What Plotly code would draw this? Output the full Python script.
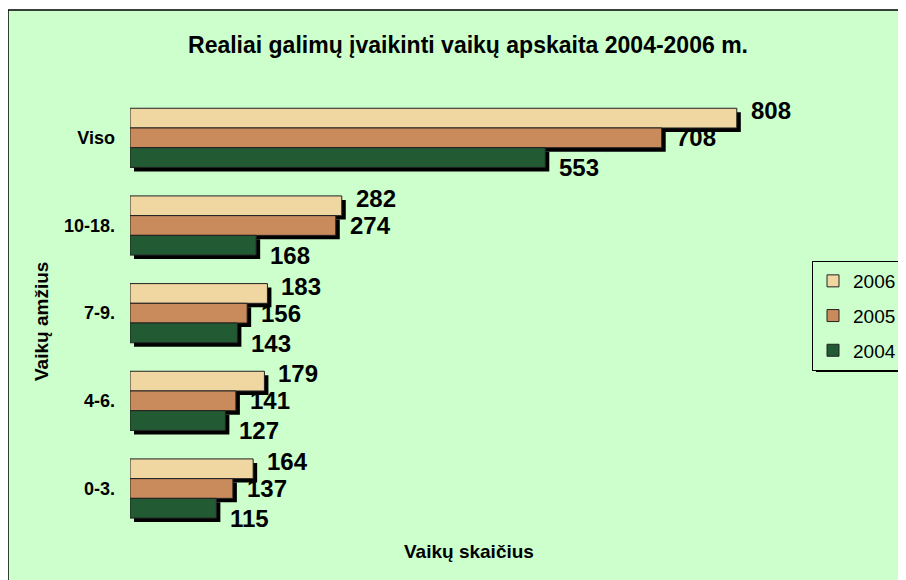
import plotly.graph_objects as go

categories = ["0-3.", "4-6.", "7-9.", "10-18.", "Viso"]
years = ["2006", "2005", "2004"]
values = {
    "2006": [164, 179, 183, 282, 808],
    "2005": [137, 141, 156, 274, 708],
    "2004": [115, 127, 143, 168, 553],
}
colors = {"2006": "#F0D6A0", "2005": "#C98A5C", "2004": "#225A33"}
offsets = {"2006": 0.1125, "2005": -0.1125, "2004": -0.3375}
label_yshift = {"2006": 27, "2005": 0, "2004": -30}
bar_w = 0.225

# page body has an 8px margin; figure coords = screen - 8
OFF = 8
W, H = 906 - OFF, 580 - OFF
L, R, T, B = 122, 25, 86, 46
pw, ph = W - L - R, H - T - B
xmax = 1000
ppu = pw / xmax
sh_px = 4
FONT = "Liberation Sans, Arial"
LEG_X, LEG_Y = 812, 261


def px_x(p):
    return (p - OFF - L) / pw


def px_y(p):
    return (H - B - (p - OFF)) / ph


fig = go.Figure()
# shadows
for yr in years:
    fig.add_trace(go.Bar(
        y=categories, x=values[yr], orientation="h",
        base=sh_px / ppu, offset=offsets[yr] - sh_px / (ph / 5), width=bar_w,
        marker=dict(color="black", line=dict(width=0)),
        showlegend=False, hoverinfo="skip",
    ))
for yr in years:
    fig.add_trace(go.Bar(
        y=categories, x=values[yr], orientation="h", name=yr,
        offset=offsets[yr], width=bar_w,
        marker=dict(color=colors[yr], line=dict(color="#222222", width=1)),
        legendgroup=yr,
    ))
    for c, v in zip(categories, values[yr]):
        fig.add_annotation(x=v, y=c, xref="x", yref="y", text="<b>%d</b>" % v,
                           showarrow=False, xanchor="left", yanchor="middle",
                           xshift=12, yshift=label_yshift[yr],
                           font=dict(size=24, family=FONT, color="black"))

fig.add_shape(type="rect", xref="paper", yref="paper",
              x0=px_x(8), x1=px_x(912), y0=px_y(586), y1=px_y(10),
              fillcolor="#CCFFCC", line=dict(color="black", width=1.5), layer="below")
# legend shadow
fig.add_shape(type="rect", xref="paper", yref="paper",
              x0=px_x(LEG_X + 4), x1=px_x(912), y0=px_y(372), y1=px_y(368),
              fillcolor="black", line=dict(width=0), layer="below")

# axis titles
fig.add_annotation(x=px_x(469), y=px_y(551), xref="paper", yref="paper",
                   text="<b>Vaikų skaičius</b>", showarrow=False,
                   xanchor="center", yanchor="middle",
                   font=dict(size=19, family=FONT, color="black"))
fig.add_annotation(x=px_x(41), y=px_y(322), xref="paper", yref="paper",
                   text="<b>Vaikų amžius</b>", showarrow=False, textangle=-90,
                   xanchor="center", yanchor="middle",
                   font=dict(size=19, family=FONT, color="black"))

fig.update_layout(
    width=W, height=H, autosize=False,
    margin=dict(l=L, r=R, t=T, b=B, autoexpand=False),
    paper_bgcolor="white", plot_bgcolor="rgba(0,0,0,0)",
    barmode="overlay",
    font=dict(family=FONT, color="black"),
    title=dict(text="<b>Realiai galimų įvaikinti vaikų apskaita 2004-2006 m.</b>",
               x=(468 - OFF) / W, xref="container", xanchor="center",
               y=1 - (45 - OFF) / H, yref="container", yanchor="middle",
               font=dict(size=23, family=FONT)),
    xaxis=dict(range=[0, xmax], showgrid=False, showticklabels=False, zeroline=False,
               showline=False, ticks=""),
    yaxis=dict(categoryorder="array", categoryarray=categories, showgrid=False,
               zeroline=False, showline=False, ticks="",
               tickfont=dict(size=18, family=FONT),
               tickprefix="<b>", ticksuffix="</b>", ticklabelstandoff=14),
    legend=dict(x=px_x(LEG_X), y=px_y(LEG_Y), xanchor="left", yanchor="top",
                bgcolor="#CCFFCC", bordercolor="black", borderwidth=1,
                font=dict(size=19), tracegroupgap=7, traceorder="grouped",
                itemwidth=30),
)

fig.write_html("out.html", config={"responsive": False})
